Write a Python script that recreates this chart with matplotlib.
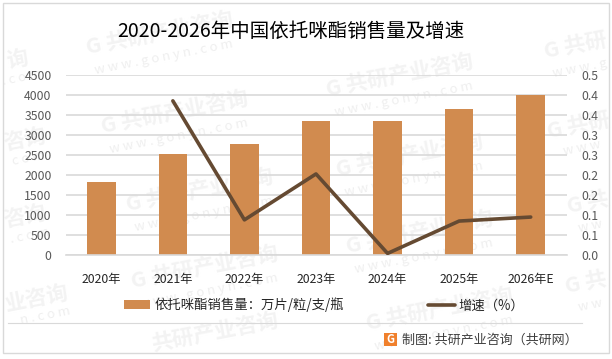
import matplotlib
matplotlib.use("Agg")
import matplotlib.pyplot as plt
from matplotlib.patches import Rectangle
from matplotlib.ticker import FixedLocator, FixedFormatter

plt.rcParams['font.family'] = ['Noto Sans CJK SC', 'DejaVu Sans']

# --- data ---
years = ['2020年', '2021年', '2022年', '2023年', '2024年', '2025年', '2026年E']
sales = [1830, 2530, 2780, 3355, 3355, 3655, 4000]
growth_years = years[1:]
growth = [0.386, 0.088, 0.203, 0.004, 0.085, 0.095]
left_ticks = [0, 500, 1000, 1500, 2000, 2500, 3000, 3500, 4000, 4500]
right_ticks = [0, 0.05, 0.10, 0.15, 0.20, 0.25, 0.30, 0.35, 0.40, 0.45]
# the original axis rounds to one decimal, so the labels repeat
right_labels = ['0.0', '0.1', '0.1', '0.2', '0.2', '0.3', '0.3', '0.4', '0.4', '0.5']

W, H = 612, 359
BAR = '#D18B4F'
LINE = '#654A32'
GRID = '#D9D9D9'

fig = plt.figure(figsize=(W / 100, H / 100), dpi=100)
fig.patch.set_facecolor('white')


def px_x(x):
    return x / W


def px_y(y):
    return 1 - y / H


# --- watermarks, behind the chart. The ones at the picture edge only show part of the text ---
FULL = 'G 共研产业咨询'
URL = 'w w w . g o n y n . c o m'
mark_full = [(160, 33), (175, 112), (205, 267), (400, 75), (410, 155), (420, 232),
             (440, 309), (200, 190)]
mark_part = [(17, 60, '询'), (25, 140, '咨询'), (25, 217, '咨询'), (37, 298, '业咨询'),
             (575, 45, 'G 共研'), (578, 125, 'G 共研'), (588, 203, 'G 共'), (586, 283, 'G 共')]
url_part = [(22, 78, '. c o m'), (28, 158, 'c o m'), (30, 236, '. c o m'), (45, 316, 'n . c o m'),
            (580, 68, 'w w w . g'), (582, 148, 'w w w'), (590, 226, 'w w'), (590, 305, 'w w')]


def mark(x, y, txt, size, weight, col):
    fig.text(px_x(x), px_y(y), txt, fontsize=size, fontweight=weight, color=col, rotation=11,
             ha='center', va='center', rotation_mode='anchor', zorder=-1)


for mx, my in mark_full:
    mark(mx, my, FULL, 15.5, 'bold', '#F3F3F3')
    mark(mx + 4, my + 24, URL, 9.5, 'normal', '#EFEFEF')
for mx, my, t in mark_part:
    mark(mx, my, t, 15.5, 'bold', '#F3F3F3')
for mx, my, t in url_part:
    mark(mx, my, t, 9.5, 'normal', '#EFEFEF')
mark(215, 332, '共研产业咨询', 15.5, 'bold', '#F3F3F3')

# outer frame and footer rule
fig.add_artist(Rectangle((px_x(3.5), px_y(353)), px_x(605), 350 / H, fill=False, ec=GRID, lw=1))
fig.add_artist(plt.Line2D([px_x(8), px_x(582)], [px_y(323), px_y(323)], color=GRID, lw=0.8))

# --- bars on the left axis ---
ax = fig.add_axes([px_x(65.5), px_y(255), px_x(501), 179.7 / H])
ax.patch.set_alpha(0)
ax.set_axisbelow(True)
ax.bar(years, sales, width=0.4, color=BAR, label='依托咪酯销售量：万片/粒/支/瓶', zorder=2)
ax.set_xlim(-0.5, 6.5)
ax.set_ylim(0, 4500)
ax.yaxis.set_major_locator(FixedLocator(left_ticks))
ax.yaxis.grid(True, color=GRID, lw=1.2)
ax.tick_params(axis='y', length=0, labelsize=8.8, labelcolor='#595959', pad=10)
ax.tick_params(axis='x', length=0, labelsize=8.8, labelcolor='#262626', pad=13)
for s in ['top', 'left', 'right']:
    ax.spines[s].set_visible(False)
ax.spines['bottom'].set_color(GRID)
ax.spines['bottom'].set_linewidth(1.2)

# --- growth line on the right axis ---
ax2 = ax.twinx()
ax2.plot(growth_years, growth, color=LINE, lw=2.6, label='增速（%）', solid_capstyle='round', zorder=3)
ax2.set_ylim(0, 0.45)
ax2.yaxis.set_major_locator(FixedLocator(right_ticks))
ax2.yaxis.set_major_formatter(FixedFormatter(right_labels))
ax2.tick_params(axis='y', length=0, labelsize=8.8, labelcolor='#595959', pad=11)
for s in ['top', 'left', 'right', 'bottom']:
    ax2.spines[s].set_visible(False)

h1, l1 = ax.get_legend_handles_labels()
h2, l2 = ax2.get_legend_handles_labels()
fig.legend(h1 + h2, l1 + l2, ncol=2, frameon=False, fontsize=9.6, labelcolor='#262626',
           loc='center', bbox_to_anchor=(px_x(324), px_y(305)), columnspacing=6.3,
           handlelength=2, handletextpad=0.3, borderpad=0)

# --- title and footer ---
fig.text(px_x(291), px_y(31), '2020-2026年中国依托咪酯销售量及增速', fontsize=14, color='black',
         ha='center', va='center')
fig.text(px_x(402), px_y(340), '制图: 共研产业咨询（共研网）', fontsize=9.4, color='#404040',
         ha='left', va='center')

# small logo next to the footer
fig.add_artist(Rectangle((px_x(384), px_y(346)), 13 / W, 13 / H, color='#F0802C', lw=0))
fig.text(px_x(390.5), px_y(339.5), 'G', fontsize=8, fontweight='bold', color='white', ha='center', va='center')

fig.savefig('out.png', dpi=100)
